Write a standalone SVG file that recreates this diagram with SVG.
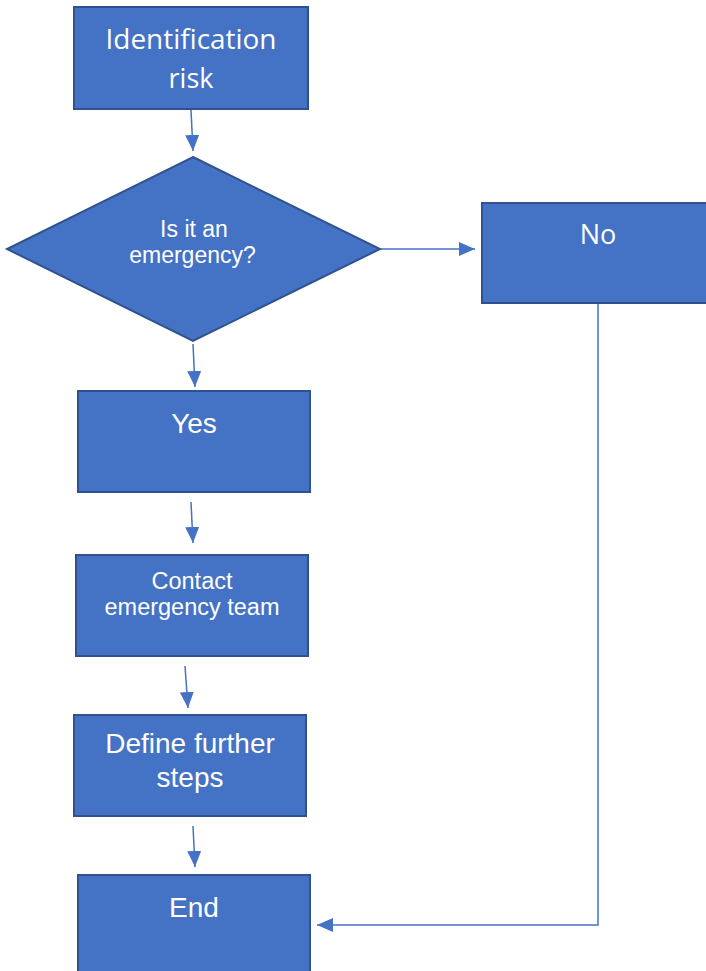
<svg xmlns="http://www.w3.org/2000/svg" width="706" height="971" viewBox="0 0 706 971">
<style>
.box{fill:#4472C4;stroke:#2F528F;stroke-width:2}
.t{fill:#FFFFFF;font-family:"Liberation Sans",Arial,sans-serif;text-anchor:middle}
.s{fill:#FFFFFF;font-family:"Open Sans","Liberation Sans",sans-serif;text-anchor:middle}
.c{fill:none;stroke:#4472C4;stroke-width:1.5}
</style>
<defs>
<marker id="ah" markerUnits="userSpaceOnUse" markerWidth="16" markerHeight="14" refX="16" refY="7" orient="auto">
<path d="M0,0 L16,7 L0,14 Z" fill="#4472C4"/>
</marker>
</defs>
<rect width="706" height="971" fill="#FFFFFF"/>
<g id="connectors">
<line class="c" x1="191" y1="110" x2="193" y2="151" marker-end="url(#ah)"/>
<line class="c" x1="381" y1="249" x2="475" y2="249" marker-end="url(#ah)"/>
<line class="c" x1="193" y1="344" x2="195" y2="387" marker-end="url(#ah)"/>
<line class="c" x1="191" y1="502" x2="193" y2="543" marker-end="url(#ah)"/>
<line class="c" x1="185" y1="666" x2="188" y2="708" marker-end="url(#ah)"/>
<line class="c" x1="193" y1="826" x2="195" y2="867" marker-end="url(#ah)"/>
<path class="c" d="M598,304 V925 H317" marker-end="url(#ah)"/>
</g>
<g id="identification">
<rect class="box" x="74" y="7" width="234" height="102"/>
<text class="s" x="191" y="49" font-size="27" textLength="171" lengthAdjust="spacingAndGlyphs">Identification</text>
<text class="s" x="191" y="88" font-size="27">risk</text>
</g>
<g id="decision">
<polygon class="box" points="193,157 380,249 193,341 7,249"/>
<text class="t" x="194" y="237" font-size="23">Is it an</text>
<text class="t" x="192.5" y="263" font-size="23">emergency?</text>
</g>
<g id="no">
<rect class="box" x="482" y="203" width="240" height="100"/>
<text class="s" x="598" y="244" font-size="27">No</text>
</g>
<g id="yes">
<rect class="box" x="78" y="391" width="232" height="101"/>
<text class="t" x="194" y="433" font-size="28">Yes</text>
</g>
<g id="contact">
<rect class="box" x="76" y="555" width="232" height="101"/>
<text class="t" x="192" y="589" font-size="23.5">Contact</text>
<text class="t" x="192" y="615" font-size="23.5">emergency team</text>
</g>
<g id="define">
<rect class="box" x="74" y="715" width="232" height="101"/>
<text class="t" x="190" y="753" font-size="28">Define further</text>
<text class="t" x="190" y="787" font-size="28">steps</text>
</g>
<g id="end">
<rect class="box" x="78" y="875" width="232" height="110"/>
<text class="t" x="194" y="917" font-size="28">End</text>
</g>
</svg>
